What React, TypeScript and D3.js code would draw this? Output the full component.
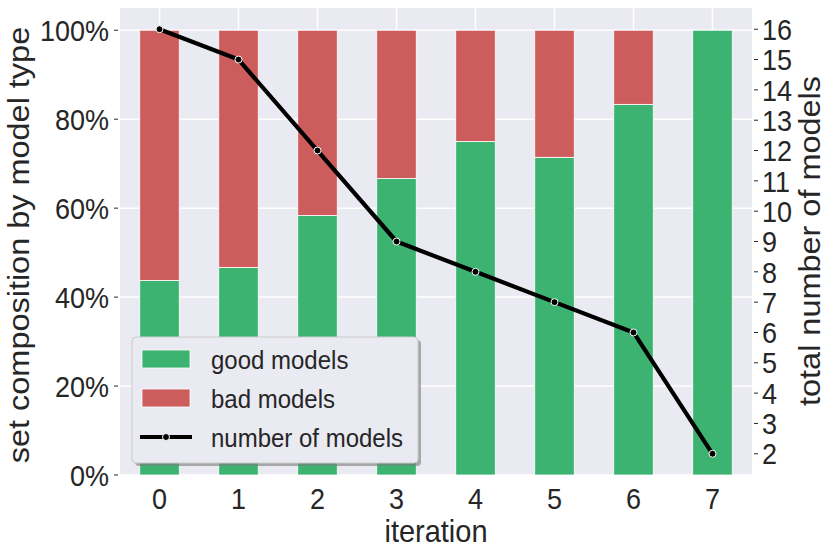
import { useEffect, useRef } from "react";
import * as d3 from "d3";

// Data
const iterations = [0, 1, 2, 3, 4, 5, 6, 7];
const goodModels = [7, 7, 7, 6, 6, 5, 5, 2];
const badModels = [9, 8, 5, 3, 2, 2, 1, 0];
const shareTicks = [0, 0.2, 0.4, 0.6, 0.8, 1.0];
const countTicks = [2, 3, 4, 5, 6, 7, 8, 9, 10, 11, 12, 13, 14, 15, 16];

const COLORS = {
  bg: "#EAEAF2",
  grid: "#FFFFFF",
  good: "#3CB371",
  bad: "#CD5C5C",
  line: "#000000",
  text: "#262626",
  legendEdge: "#CCCCCC",
};

const FONT = "'Liberation Sans', Arial, Helvetica, sans-serif";
const W = 831;
const H = 557;
const plot = { left: 120, right: 752, top: 8, bottom: 475 };
// the reference glyphs are a bit taller than wide
const STRETCH = 1.1;

export default function App() {
  const svgRef = useRef<SVGSVGElement>(null);

  useEffect(() => {
    document.body.style.margin = "0";
    if (!svgRef.current) return;
    const svg = d3.select(svgRef.current);
    svg.selectAll("*").remove();

    const totals = iterations.map((_, i) => goodModels[i] + badModels[i]);
    const rows = iterations.map((it, i) => ({
      it,
      good: goodModels[i] / totals[i],
      bad: badModels[i] / totals[i],
      total: totals[i],
    }));

    const x = d3.scaleLinear().domain([-0.5, 7.5]).range([plot.left, plot.right]);
    const yL = d3.scaleLinear().domain([0, 1.05]).range([plot.bottom, plot.top]);
    const yR = d3.scaleLinear().domain([1.3, 16.7]).range([plot.bottom, plot.top]);
    const barW = x(0.5) - x(0);

    // background
    svg.append("rect")
      .attr("x", plot.left).attr("y", plot.top)
      .attr("width", plot.right - plot.left)
      .attr("height", plot.bottom - plot.top)
      .attr("fill", COLORS.bg);

    // grid
    const grid = svg.append("g");
    grid.selectAll("line.h")
      .data(shareTicks)
      .join("line")
      .attr("x1", plot.left).attr("x2", plot.right)
      .attr("y1", (d) => yL(d)).attr("y2", (d) => yL(d))
      .attr("stroke", COLORS.grid).attr("stroke-width", 1.5);
    grid.selectAll("line.v")
      .data(iterations)
      .join("line")
      .attr("y1", plot.top).attr("y2", plot.bottom)
      .attr("x1", (d) => x(d)).attr("x2", (d) => x(d))
      .attr("stroke", COLORS.grid).attr("stroke-width", 1.5);

    // stacked bars
    const bars = svg.append("g");
    rows.forEach((d) => {
      bars.append("rect")
        .attr("x", x(d.it) - barW / 2)
        .attr("y", yL(d.good))
        .attr("width", barW)
        .attr("height", yL(0) - yL(d.good))
        .attr("fill", COLORS.good)
        .attr("stroke", "#fff").attr("stroke-width", 0.8);
      if (d.bad > 0) {
        bars.append("rect")
          .attr("x", x(d.it) - barW / 2)
          .attr("y", yL(d.good + d.bad))
          .attr("width", barW)
          .attr("height", yL(d.good) - yL(d.good + d.bad))
          .attr("fill", COLORS.bad)
          .attr("stroke", "#fff").attr("stroke-width", 0.8);
      }
    });

    // number of models line
    const line = d3.line<(typeof rows)[number]>()
      .x((d) => x(d.it))
      .y((d) => yR(d.total));
    svg.append("path")
      .datum(rows)
      .attr("d", line)
      .attr("fill", "none")
      .attr("stroke", COLORS.line)
      .attr("stroke-width", 4.2)
      .attr("stroke-linejoin", "round");
    svg.append("g")
      .selectAll("circle")
      .data(rows)
      .join("circle")
      .attr("cx", (d) => x(d.it))
      .attr("cy", (d) => yR(d.total))
      .attr("r", 3.5)
      .attr("fill", COLORS.line)
      .attr("stroke", "#fff")
      .attr("stroke-width", 1);

    // left axis
    const left = svg.append("g");
    left.selectAll("line")
      .data(shareTicks)
      .join("line")
      .attr("x1", plot.left - 6).attr("x2", plot.left - 2)
      .attr("y1", (d) => yL(d)).attr("y2", (d) => yL(d))
      .attr("stroke", COLORS.text).attr("stroke-width", 1);
    left.selectAll("text")
      .data(shareTicks)
      .join("text")
      .attr("transform", (d) => `translate(${plot.left - 11},${yL(d)}) scale(1,${STRETCH})`)
      .attr("dy", "0.36em")
      .attr("text-anchor", "end")
      .attr("font-family", FONT)
      .attr("font-size", 27)
      .attr("fill", COLORS.text)
      .text((d) => `${Math.round(d * 100)}%`);

    // right axis
    const right = svg.append("g");
    right.selectAll("line")
      .data(countTicks)
      .join("line")
      .attr("x1", plot.right + 2).attr("x2", plot.right + 6)
      .attr("y1", (d) => yR(d)).attr("y2", (d) => yR(d))
      .attr("stroke", COLORS.text).attr("stroke-width", 1);
    right.selectAll("text")
      .data(countTicks)
      .join("text")
      .attr("transform", (d) => `translate(${plot.right + 10},${yR(d)}) scale(1,${STRETCH})`)
      .attr("dy", "0.36em")
      .attr("font-family", FONT)
      .attr("font-size", 27)
      .attr("fill", COLORS.text)
      .text((d) => d);

    // x axis labels
    svg.append("g")
      .selectAll("text")
      .data(iterations)
      .join("text")
      .attr("transform", (d) => `translate(${x(d)},509) scale(1,${STRETCH})`)
      .attr("text-anchor", "middle")
      .attr("font-family", FONT)
      .attr("font-size", 27)
      .attr("fill", COLORS.text)
      .text((d) => d);

    // axis titles
    svg.append("text")
      .attr("transform", `translate(${(plot.left + plot.right) / 2},542) scale(1,${STRETCH})`)
      .attr("text-anchor", "middle")
      .attr("font-family", FONT)
      .attr("font-size", 29)
      .attr("fill", COLORS.text)
      .text("iteration");
    svg.append("text")
      .attr("transform", `translate(29,245) scale(1,${STRETCH}) rotate(-90)`)
      .attr("text-anchor", "middle")
      .attr("font-family", FONT)
      .attr("font-size", 29.5)
      .attr("fill", COLORS.text)
      .text("set composition by model type");
    svg.append("text")
      .attr("transform", `translate(820,241) scale(1,${STRETCH}) rotate(-90)`)
      .attr("text-anchor", "middle")
      .attr("font-family", FONT)
      .attr("font-size", 29.5)
      .attr("fill", COLORS.text)
      .text("total number of models");

    // legend
    const lg = svg.append("g").attr("transform", "translate(132, 337)");
    const lw = 286;
    const lh = 126;
    lg.append("rect")
      .attr("x", 3).attr("y", 3)
      .attr("width", lw).attr("height", lh)
      .attr("rx", 4)
      .attr("fill", "#7a7a7a").attr("opacity", 0.6);
    lg.append("rect")
      .attr("width", lw).attr("height", lh)
      .attr("rx", 4)
      .attr("fill", COLORS.bg)
      .attr("stroke", COLORS.legendEdge).attr("stroke-width", 1);

    const items = [
      { label: "good models", kind: "patch", color: COLORS.good },
      { label: "bad models", kind: "patch", color: COLORS.bad },
      { label: "number of models", kind: "line", color: COLORS.line },
    ];
    items.forEach((it, i) => {
      const cy = 22 + i * 39;
      if (it.kind === "patch") {
        lg.append("rect")
          .attr("x", 10).attr("y", cy - 9)
          .attr("width", 48).attr("height", 18)
          .attr("fill", it.color)
          .attr("stroke", "#fff").attr("stroke-width", 0.8);
      } else {
        lg.append("line")
          .attr("x1", 8).attr("x2", 60)
          .attr("y1", cy).attr("y2", cy)
          .attr("stroke", it.color).attr("stroke-width", 4.2);
        lg.append("circle")
          .attr("cx", 34).attr("cy", cy).attr("r", 3.5)
          .attr("fill", it.color).attr("stroke", "#fff").attr("stroke-width", 1);
      }
      lg.append("text")
        .attr("transform", `translate(79,${cy}) scale(1,${STRETCH})`)
        .attr("dy", "0.36em")
        .attr("font-family", FONT)
        .attr("font-size", 24)
        .attr("fill", COLORS.text)
        .text(it.label);
    });
  }, []);

  return <svg ref={svgRef} width={W} height={H} style={{ display: "block", background: "#fff" }} />;
}
